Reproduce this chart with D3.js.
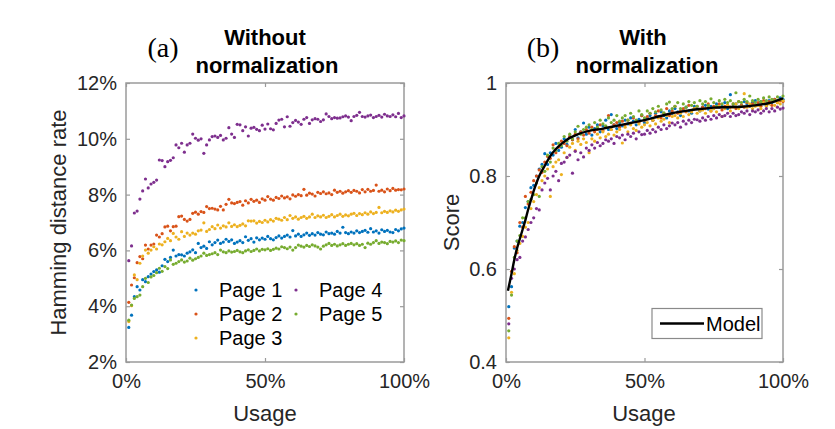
<!DOCTYPE html>
<html><head><meta charset="utf-8">
<script src="https://cdn.jsdelivr.net/npm/d3@7"></script>
<style>body{margin:0;background:#fff}</style>
</head><body><svg id="c" width="835" height="429"></svg>
<script>
// ---------- DATA ----------
const seriesNames = ["Page 1", "Page 2", "Page 3", "Page 4", "Page 5"];
const seriesColors = ["#0072BD", "#D95319", "#EDB120", "#7E2F8E", "#77AC30"];
const usage = d3.range(1, 101); // usage %, 1..100

// (a) Hamming distance rate (%) without normalization
const hamPage1 = [3.24,3.68,4.34,4.70,4.58,4.95,4.88,5.06,5.15,5.24, 5.30,5.22,5.45,5.68,5.60,5.75,6.01,5.80,5.85,5.84,
  5.80,5.90,5.95,6.02,5.92,6.25,6.10,6.15,6.07,6.31, 6.20,6.28,6.37,6.25,6.30,6.40,6.32,6.38,6.25,6.30,
  6.35,6.28,6.49,6.36,6.42,6.30,6.45,6.38,6.44,6.40, 6.50,6.42,6.38,6.46,6.52,6.44,6.50,6.55,6.48,6.71,
  6.52,6.58,6.50,6.56,6.62,6.54,6.60,6.55,6.64,6.58, 6.56,6.66,6.60,6.62,6.58,6.68,6.62,6.83,6.64,6.60,
  6.66,6.62,6.70,6.64,6.68,6.72,6.65,6.78,6.66,6.70, 6.62,6.74,6.68,6.72,6.66,6.64,6.75,6.70,6.77,6.80];
const hamPage2 = [4.14,4.76,5.02,5.56,5.78,5.70,6.19,6.05,6.19,6.23, 6.55,6.48,6.60,6.84,6.87,6.70,6.85,6.87,7.21,7.23,
  7.11,7.05,7.11,7.33,7.37,7.30,7.39,7.36,7.57,7.50, 7.51,7.48,7.45,7.58,7.45,7.65,7.83,7.70,7.68,7.72,
  7.75,7.62,7.78,7.70,7.83,7.76,7.80,7.72,7.85,7.80, 7.93,7.84,7.80,7.90,7.86,7.95,7.88,7.92,7.85,7.99,
  7.94,8.00,7.96,8.19,7.98,8.05,8.02,7.95,8.08,8.04, 8.10,8.03,8.06,8.00,8.16,8.08,8.12,8.05,8.10,8.14,
  8.08,8.15,8.12,8.06,8.18,8.10,8.19,8.12,8.15,8.34, 8.12,8.16,8.10,8.20,8.14,8.22,8.16,8.18,8.17,8.20];
const hamPage3 = [3.45,4.02,5.12,4.95,5.54,5.80,6.01,5.90,6.01,6.13, 6.05,6.23,6.20,6.31,6.43,6.35,6.61,6.48,6.40,6.67,
  6.50,6.62,6.55,6.62,6.58,6.70,6.73,6.99,6.68,6.75, 6.85,6.78,6.91,6.80,6.88,6.84,6.99,6.86,6.92,6.85,
  6.90,6.95,6.88,7.06,7.05,7.06,6.98,7.04,7.00,7.08, 7.02,7.10,7.05,7.15,7.12,7.08,7.18,7.10,7.25,7.15,
  7.20,7.12,7.18,7.22,7.15,7.20,7.30,7.18,7.24,7.20, 7.26,7.18,7.22,7.28,7.20,7.25,7.30,7.22,7.27,7.24,
  7.30,7.33,7.25,7.32,7.28,7.35,7.30,7.38,7.32,7.36, 7.54,7.35,7.40,7.36,7.42,7.38,7.44,7.40,7.45,7.48];
const hamPage4 = [5.63,6.16,7.34,7.41,7.84,8.13,8.56,8.24,8.38,8.44, 8.52,9.24,9.22,9.00,9.18,9.23,9.32,9.78,9.68,9.84,
  9.52,9.78,9.84,10.17,10.02,9.95,10.00,9.48,9.78,9.96, 10.08,10.10,10.05,10.12,9.96,10.02,10.40,10.17,10.05,10.52,
  10.50,10.29,10.43,10.10,10.38,10.41,10.34,10.29,10.49,10.35, 10.53,10.36,10.32,10.55,10.67,10.70,10.43,10.79,10.45,10.58,
  10.66,10.60,10.52,10.70,10.76,10.55,10.68,10.72,10.70,10.62, 10.68,10.89,10.80,10.72,10.76,10.74,10.75,10.79,10.82,10.78,
  10.65,10.80,10.84,10.95,10.80,10.78,10.82,10.85,10.76,10.80, 10.84,10.78,10.88,10.82,10.80,10.86,10.79,10.91,10.76,10.82];
const hamPage5 = [3.50,4.04,4.28,4.34,4.40,4.70,5.00,4.85,5.05,5.10, 5.20,5.36,5.25,5.42,5.35,5.66,5.50,5.54,5.60,5.66,
  5.58,5.62,5.72,5.65,5.70,5.75,5.80,5.90,5.82,5.85, 5.88,5.92,5.85,6.01,5.95,5.92,5.98,5.94,5.96,6.00,
  5.95,5.92,5.98,6.02,5.96,6.00,6.05,5.98,6.04,6.02, 6.06,6.00,6.04,6.08,6.05,6.13,6.10,6.06,6.12,6.01,
  6.10,6.19,6.15,6.12,6.18,6.14,6.20,6.16,6.12,6.05, 6.15,6.20,6.25,6.18,6.22,6.16,6.20,6.24,6.18,6.22,
  6.25,6.20,6.24,6.18,6.22,6.10,6.26,6.22,6.28,6.35, 6.25,6.30,6.28,6.24,6.32,6.30,6.34,6.28,6.37,6.35];

// (b) Score with normalization
const scorePage1 = [.519,.562,.645,.66,.692,.70,.732,.745,.775,.78, .80,.815,.825,.848,.825,.85,.845,.87,.855,.862,
  .88,.868,.885,.878,.90,.882,.895,.914,.89,.905, .888,.902,.91,.895,.908,.92,.90,.932,.91,.902,
  .915,.908,.92,.912,.925,.918,.91,.922,.93,.915, .925,.93,.92,.935,.928,.938,.93,.925,.94,.935,
  .945,.938,.93,.942,.948,.94,.935,.95,.945,.94, .948,.952,.944,.95,.945,.955,.948,.95,.958,.945,
  .975,.95,.955,.948,.952,.96,.955,.95,.958,.962, .955,.96,.958,.952,.962,.958,.965,.96,.968,.965];
const scorePage2 = [.494,.595,.648,.635,.70,.69,.756,.74,.765,.79, .80,.813,.808,.83,.842,.838,.867,.85,.862,.875,
  .87,.865,.885,.878,.89,.88,.895,.888,.90,.892, .905,.895,.90,.91,.898,.905,.93,.90,.91,.915,
  .905,.918,.91,.92,.912,.925,.918,.915,.93,.92, .928,.935,.92,.93,.94,.925,.935,.945,.93,.94,
  .95,.935,.94,.945,.938,.952,.94,.945,.95,.942, .948,.945,.955,.94,.95,.948,.955,.942,.95,.952,
  .948,.955,.945,.96,.952,.948,.958,.95,.955,.952, .958,.95,.962,.955,.96,.952,.965,.958,.962,.96];
const scorePage3 = [.452,.55,.59,.64,.655,.67,.69,.70,.73,.745, .76,.775,.79,.80,.815,.756,.82,.83,.835,.803,
  .85,.84,.862,.87,.855,.875,.868,.88,.872,.85, .88,.875,.89,.882,.895,.885,.89,.90,.888,.895,
  .90,.871,.905,.895,.91,.902,.898,.912,.905,.91, .915,.908,.92,.912,.925,.918,.922,.93,.915,.928,
  .93,.925,.935,.928,.94,.932,.938,.945,.935,.94, .942,.935,.948,.94,.945,.938,.95,.928,.945,.952,
  .94,.948,.955,.945,.95,.977,.948,.955,.945,.95, .952,.945,.958,.95,.955,.96,.952,.958,.955,.962];
const scorePage4 = [.482,.58,.60,.62,.625,.66,.669,.685,.70,.71, .73,.727,.77,.785,.795,.77,.80,.81,.79,.827,
  .83,.84,.845,.806,.853,.835,.85,.841,.86,.855, .867,.86,.872,.865,.87,.878,.875,.88,.87,.885,
  .882,.888,.878,.89,.885,.892,.88,.895,.889,.89, .898,.892,.90,.895,.905,.90,.91,.902,.908,.914,
  .91,.915,.905,.918,.912,.92,.915,.922,.921,.918, .925,.92,.928,.922,.93,.925,.932,.928,.93,.935,
  .928,.935,.93,.932,.938,.935,.94,.932,.94,.938, .942,.935,.94,.945,.938,.945,.94,.948,.944,.946];
const scorePage5 = [.467,.544,.625,.66,.672,.71,.71,.745,.75,.76, .785,.756,.82,.81,.845,.83,.86,.855,.87,.865,
  .885,.875,.89,.88,.895,.907,.89,.90,.905,.91, .90,.915,.905,.92,.912,.908,.925,.915,.92,.93,
  .918,.925,.93,.92,.935,.928,.92,.94,.932,.925, .94,.935,.945,.938,.95,.942,.936,.955,.959,.945,
  .95,.958,.945,.955,.948,.96,.952,.958,.95,.962, .955,.96,.952,.966,.958,.95,.962,.955,.965,.958,
  .962,.955,.979,.96,.958,.965,.96,.972,.962,.958, .965,.96,.968,.962,.97,.965,.962,.97,.965,.972];

const modelUsage = [0.7,2,3,4,5,6,7,8,9,10,11,12,14,16,18,20,23,26,30,35,40,45,50,55,60,65,70,75,80,85,90,95,100];
const modelScore = [.553,.59,.62,.645,.665,.685,.705,.728,.748,.768,.785,.80,.822,.843,.858,.869,.882,.89,.897,.902,.908,.914,.92,.928,.935,.94,.944,.947,.948,.949,.952,.957,.967];

const xTicks = [0, 50, 100];
const yTicksA = [2, 4, 6, 8, 10, 12];
const yTicksB = [0.4, 0.6, 0.8, 1];

// ---------- DRAW ----------
const svg = d3.select("#c");
const FONT = "'Liberation Sans', Arial, sans-serif";
const axisCol = "#9a9a9a";
const txtCol = "#262626";

function panel(x0, x1, yDomain, yTicks, yFmt) {
  const x = d3.scaleLinear().domain([0, 100]).range([x0, x1]);
  const y = d3.scaleLinear().domain(yDomain).range([362, 83]);
  const g = svg.append("g");
  // box
  g.append("rect").attr("x", x0).attr("y", 83).attr("width", x1 - x0).attr("height", 279)
    .attr("fill", "none").attr("stroke", axisCol).attr("stroke-width", 1.5);
  const ax = d3.axisBottom(x).tickValues(xTicks).tickSize(-4).tickPadding(12).tickFormat(d => d + "%");
  const gx = g.append("g").attr("transform", "translate(0,362)").call(ax);
  const axT = d3.axisTop(x).tickValues(xTicks).tickSize(-4).tickFormat("");
  const gxt = g.append("g").attr("transform", "translate(0,83)").call(axT);
  const ay = d3.axisLeft(y).tickValues(yTicks).tickSize(-4).tickPadding(9).tickFormat(yFmt);
  const gy = g.append("g").attr("transform", `translate(${x0},0)`).call(ay);
  const ayR = d3.axisRight(y).tickValues(yTicks).tickSize(-4).tickFormat("");
  const gyr = g.append("g").attr("transform", `translate(${x1},0)`).call(ayR);
  [gx, gxt, gy, gyr].forEach(a => {
    a.select(".domain").remove();
    a.selectAll("line").attr("stroke", axisCol).attr("stroke-width", 1.2);
    a.selectAll("text").attr("font-family", FONT).attr("font-size", 20).attr("fill", txtCol);
  });
  gx.selectAll("text").attr("dy", "0.71em");
  return { x, y, g };
}

// Panel (a)
const A = panel(126, 404, [2, 12], yTicksA, d => d + "%");
const hamSeries = [hamPage1, hamPage2, hamPage3, hamPage4, hamPage5];
hamSeries.forEach((vals, k) => {
  A.g.append("g").selectAll("circle").data(vals).join("circle")
    .attr("cx", (d, i) => A.x(usage[i])).attr("cy", d => A.y(d))
    .attr("r", 1.6).attr("fill", seriesColors[k]);
});

// Panel (b)
const B = panel(506, 783, [0.4, 1], yTicksB, d => d === 1 ? "1" : d3.format(".1f")(d));
const scoreSeries = [scorePage1, scorePage2, scorePage3, scorePage4, scorePage5];
scoreSeries.forEach((vals, k) => {
  B.g.append("g").selectAll("circle").data(vals).join("circle")
    .attr("cx", (d, i) => B.x(usage[i])).attr("cy", d => B.y(d))
    .attr("r", 1.6).attr("fill", seriesColors[k]);
});
const line = d3.line().x(d => B.x(d[0])).y(d => B.y(d[1])).curve(d3.curveMonotoneX);
B.g.append("path").datum(modelUsage.map((u, i) => [u, modelScore[i]]))
  .attr("d", line).attr("fill", "none").attr("stroke", "#000").attr("stroke-width", 2.4);

// Axis labels
function txt(x, y, s, opts = {}) {
  const t = svg.append("text").attr("x", x).attr("y", y).text(s)
    .attr("font-family", opts.family || FONT).attr("font-size", opts.size || 22)
    .attr("fill", opts.fill || txtCol).attr("text-anchor", opts.anchor || "middle")
    .attr("font-weight", opts.weight || "normal");
  if (opts.rotate) t.attr("transform", `rotate(-90,${x},${y})`);
  return t;
}
txt(265, 421, "Usage");
txt(644, 421, "Usage");
txt(66, 222.5, "Hamming distance rate", { rotate: true });
txt(459, 222.5, "Score", { rotate: true });

// Titles
txt(265, 45, "Without", { weight: "bold", fill: "#000" });
txt(267, 73, "normalization", { weight: "bold", fill: "#000" });
txt(163, 57, "(a)", { family: "'Liberation Serif', 'Times New Roman', serif", size: 28, fill: "#000" });
txt(643, 45, "With", { weight: "bold", fill: "#000" });
txt(647, 73, "normalization", { weight: "bold", fill: "#000" });
txt(543, 57, "(b)", { family: "'Liberation Serif', 'Times New Roman', serif", size: 28, fill: "#000" });

// Legend (a)
const legPos = [[196, 290], [196, 314], [196, 338], [296, 290], [296, 314]];
seriesNames.forEach((n, k) => {
  const [lx, ly] = legPos[k];
  svg.append("circle").attr("cx", lx).attr("cy", ly).attr("r", 1.6).attr("fill", seriesColors[k]);
  svg.append("text").attr("x", lx + 23).attr("y", ly).attr("dy", "0.35em").text(n)
    .attr("font-family", FONT).attr("font-size", 20).attr("fill", "#000");
});

// Legend (b)
svg.append("rect").attr("x", 652).attr("y", 308.5).attr("width", 110).attr("height", 30)
  .attr("fill", "#fff").attr("stroke", "#8a8a8a").attr("stroke-width", 1.2);
svg.append("line").attr("x1", 660).attr("x2", 704).attr("y1", 323.5).attr("y2", 323.5)
  .attr("stroke", "#000").attr("stroke-width", 2.4);
svg.append("text").attr("x", 706).attr("y", 323.5).attr("dy", "0.35em").text("Model")
  .attr("font-family", FONT).attr("font-size", 20).attr("fill", "#000");
</script>
</body></html>
